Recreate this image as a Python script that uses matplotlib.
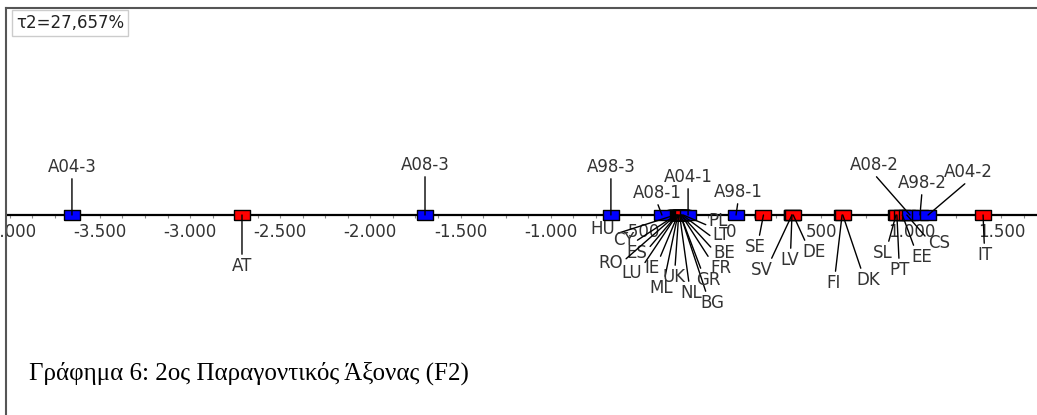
import numpy as np
import matplotlib
matplotlib.use("Agg")
import matplotlib.pyplot as plt
from matplotlib.lines import Line2D
from matplotlib.ticker import FuncFormatter, MultipleLocator

# factor scores on the 2nd axis (F2)
var_names = ["A04-3", "A08-3", "A98-3", "A08-1", "A04-1", "A98-1", "A08-2", "A98-2", "A04-2"]
var_values = [-3655, -1697, -666, -383, -238, 28, 993, 1048, 1093]

country_names = ["AT", "HU", "CY", "ES", "RO", "LU", "IE", "ML", "UK", "NL", "BG", "GR",
                 "FR", "BE", "LT", "PL", "SE", "SV", "LV", "DE", "FI", "DK", "SL", "PT",
                 "EE", "CS", "IT"]
country_values = [-2712, -310, -305, -300, -305, -300, -295, -295, -290, -285, -280, -280,
                  -275, -275, -270, -265, 180, 338, 338, 345, 616, 620, 915, 920,
                  950, 975, 1398]

inertia_label = "τ2=27,657%"
title = "Γράφημα 6: 2ος Παραγοντικός Άξονας (F2)"

# label offsets in pixels (dx, dy) from each marker
var_offsets = {
    "A04-3": (0, 48), "A08-3": (0, 50), "A98-3": (0, 48), "A08-1": (-5, 22),
    "A04-1": (0, 38), "A98-1": (2, 23), "A08-2": (-36, 50), "A98-2": (2, 32),
    "A04-2": (40, 43),
}
country_offsets = {
    "AT": (0, -51), "HU": (-72, -14), "CY": (-52, -25), "ES": (-40, -38),
    "RO": (-65, -48), "LU": (-45, -58), "IE": (-26, -53), "ML": (-17, -73),
    "UK": (-5, -62), "NL": (12, -78), "BG": (32, -88), "GR": (28, -65),
    "FR": (40, -53), "BE": (43, -38), "LT": (39, -20), "PL": (35, -6),
    "SE": (-8, -32), "SV": (-30, -55), "LV": (-2, -45), "DE": (21, -37),
    "FI": (-9, -68), "DK": (25, -65), "SL": (-13, -38), "PT": (3, -55),
    "EE": (19, -42), "CS": (32, -28), "IT": (2, -40),
}

W, H = 1037, 415
fig = plt.figure(figsize=(W / 100, H / 100), dpi=100)
fig.patch.set_facecolor("white")

ax = fig.add_axes([0, 0, 1, 1])
ax.set_xlim(-4054, 1697)
ax.set_ylim(-200, 215)
ax.patch.set_visible(False)
for side in ["left", "right", "top"]:
    ax.spines[side].set_visible(False)
ax.spines["bottom"].set_position(("data", 0))
ax.spines["bottom"].set_linewidth(1.6)
ax.spines["bottom"].set_bounds(-4015, 1697)
ax.yaxis.set_visible(False)

ax.xaxis.set_major_locator(MultipleLocator(500))
ax.xaxis.set_minor_locator(MultipleLocator(125))
ax.xaxis.set_major_formatter(FuncFormatter(lambda v, p: f"{v:,.0f}".replace(",", ".")))
ax.tick_params(axis="x", which="both", direction="out", length=2.5, width=0.8,
               color="#888888", labelsize=12, labelcolor="#333333", pad=3)

box = [(-8, -5), (8, -5), (8, 5), (-8, 5), (-8, -5)]


def place(names, values, offsets, color, z):
    ax.plot(values, np.zeros(len(values)), linestyle="none", marker=box,
            markersize=11.5, markerfacecolor=color, markeredgecolor="black",
            markeredgewidth=1.0, zorder=z)
    for name, v in zip(names, values):
        dx, dy = offsets[name]
        ax.annotate(name, xy=(v, 0), xytext=(dx, dy), textcoords="offset pixels",
                    ha="center", va="center", fontsize=12, color="#333333",
                    zorder=6,
                    arrowprops=dict(arrowstyle="-", color="black", lw=1.0,
                                    shrinkA=0, shrinkB=0, relpos=(0.5, 0)))


place(country_names, country_values, country_offsets, "#ff0000", 3)
place(var_names, var_values, var_offsets, "#0000ff", 4)

# outer frame (left and top only)
fig.add_artist(Line2D([6 / W, 6 / W], [0, 1 - 8 / H], color="#555555", lw=1.5))
fig.add_artist(Line2D([6 / W, 1], [1 - 8 / H, 1 - 8 / H], color="#555555", lw=1.5))

fig.text(16 / W, 1 - 23 / H, inertia_label, fontsize=12, color="#222222",
         ha="left", va="center",
         bbox=dict(boxstyle="square,pad=0.25", facecolor="white",
                   edgecolor="#cccccc", linewidth=1))

fig.text(29 / W, 1 - 373 / H, title, fontsize=18, family="Liberation Serif",
         color="black", ha="left", va="center")

fig.savefig("out.png", dpi=100)
